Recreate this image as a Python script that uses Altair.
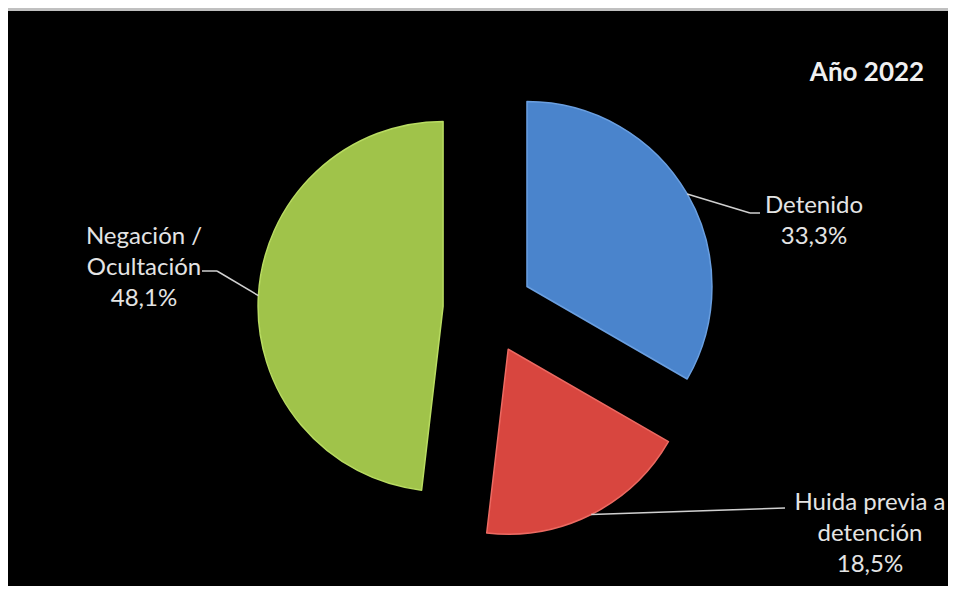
import altair as alt
import pandas as pd

# ---- data ----
TITLE = "Año 2022"
CATEGORIES = ["Detenido", "Huida previa a detención", "Negación / Ocultación"]
VALUES = [33.3, 18.5, 48.1]
LABEL_TEXT = ["Detenido", "Huida previa a\ndetención", "Negación /\nOcultación"]

# ---- style / layout ----
COLORS = ["#4a84cc", "#d8463f", "#a0c34a"]
EDGE_COLORS = ["#6a9fe0", "#ec6a62", "#b9dc62"]
CX, CY = 480, 298          # pie centre (px in view)
EXPLODE = 45               # explosion distance
RADIUS = 185
LABEL_POS = [(806, 195), (862, 492), (136, 226)]   # first-line centres
LEADER_ELBOW = [(742, 202), (777, 497), (209, 260)]
LEADER_END = [(752, 202), (777, 497), (194, 260)]
FONT = "Lato"
TEXT_COLOR = "#e4e4e4"

df = pd.DataFrame({
    "cat": CATEGORIES,
    "value": VALUES,
    "order": list(range(len(CATEGORIES))),
    "text": LABEL_TEXT,
    "lx": [p[0] for p in LABEL_POS],
    "ly": [p[1] for p in LABEL_POS],
    "bx": [p[0] for p in LEADER_ELBOW],
    "by": [p[1] for p in LEADER_ELBOW],
    "ex": [p[0] for p in LEADER_END],
    "ey": [p[1] for p in LEADER_END],
})

base = alt.Chart(df).transform_joinaggregate(
    total="sum(value)"
).transform_window(
    cum="sum(value)", sort=[alt.SortField("order")], frame=[None, 0]
).transform_calculate(
    t0="(datum.cum - datum.value) / datum.total * 2 * PI",
    t1="datum.cum / datum.total * 2 * PI",
    mid="(datum.t0 + datum.t1) / 2",
    cx=f"{CX} + {EXPLODE} * sin(datum.mid)",
    cy=f"{CY} - {EXPLODE} * cos(datum.mid)",
    ax=f"{CX} + {EXPLODE + RADIUS} * sin(datum.mid)",
    ay=f"{CY} - {EXPLODE + RADIUS} * cos(datum.mid)",
    pct="replace(format(datum.value, '.1f'), '.', ',') + '%'",
    label="datum.text + '\\n' + datum.pct",
)

arcs = base.mark_arc(radius=RADIUS, strokeWidth=1.5, strokeJoin="round").encode(
    theta=alt.Theta("t0:Q", scale=None),
    theta2="t1:Q",
    x=alt.X("cx:Q", scale=None, axis=None),
    y=alt.Y("cy:Q", scale=None, axis=None),
    color=alt.Color("cat:N", scale=alt.Scale(domain=CATEGORIES, range=COLORS), legend=None),
    stroke=alt.Stroke("cat:N", scale=alt.Scale(domain=CATEGORIES, range=EDGE_COLORS), legend=None),
)

lead1 = base.mark_rule(color="#d0d0d0", strokeWidth=1.5).encode(
    x=alt.X("ax:Q", scale=None, axis=None),
    y=alt.Y("ay:Q", scale=None, axis=None),
    x2="bx:Q",
    y2="by:Q",
)
lead2 = base.mark_rule(color="#d0d0d0", strokeWidth=1.5).encode(
    x=alt.X("bx:Q", scale=None, axis=None),
    y=alt.Y("by:Q", scale=None, axis=None),
    x2="ex:Q",
    y2="ey:Q",
)

labels = base.mark_text(
    lineBreak="\n", lineHeight=31, fontSize=24, font=FONT, color=TEXT_COLOR,
    align="center", baseline="middle",
).encode(
    x=alt.X("lx:Q", scale=None, axis=None),
    y=alt.Y("ly:Q", scale=None, axis=None),
    text="label:N",
)

title = alt.Chart(pd.DataFrame({"t": [TITLE]})).mark_text(
    fontSize=26, fontWeight="bold", font=FONT, color="#f0f0f0",
    align="center", baseline="middle",
).encode(x=alt.value(859), y=alt.value(62), text="t:N")

chart = alt.layer(arcs, lead1, lead2, labels, title).properties(
    width=940, height=575, background="#c0c0c0",
    padding={"top": 3, "left": 0, "right": 0, "bottom": 0},
).configure_view(fill="black", stroke=None)

chart.save("out.html", embed_options={"renderer": "svg", "actions": False})
